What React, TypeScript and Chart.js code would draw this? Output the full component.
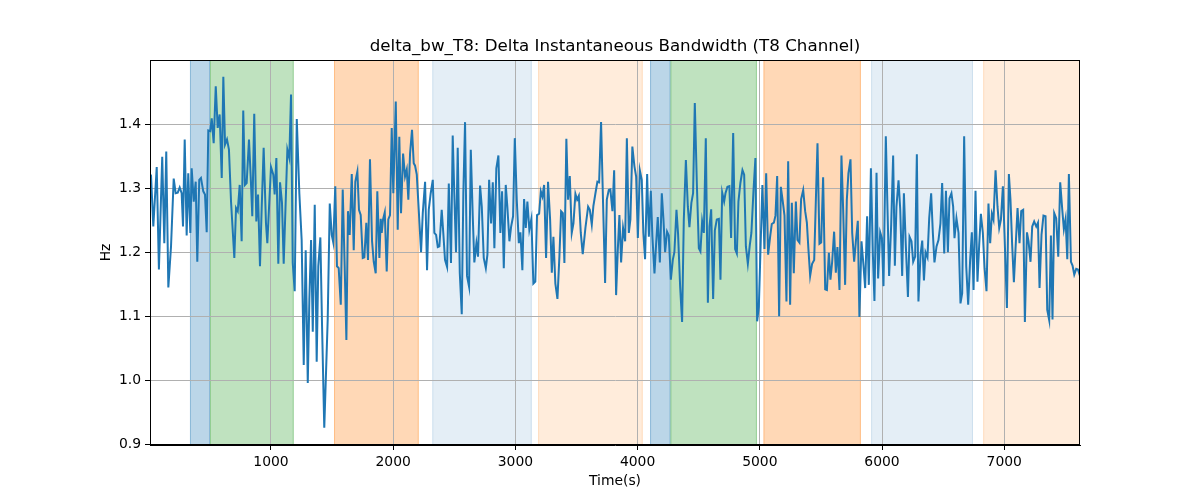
import React, { useEffect, useRef } from 'react';
import { Chart, registerables } from 'chart.js';

Chart.register(...registerables);

const TITLE = 'delta_bw_T8: Delta Instantaneous Bandwidth (T8 Channel)';
const X_LABEL = 'Time(s)';
const Y_LABEL = 'Hz';

const times = [
  10, 18, 37, 65, 83, 110, 127, 143, 160, 182, 204, 220, 237, 253, 269, 280, 294, 310, 323, 340,
  351, 368, 384, 397, 413, 427, 446, 460, 474, 487, 503, 515, 531, 548, 564, 580, 597, 610, 624, 640,
  656, 673, 700, 714, 728, 744, 760, 773, 787, 801, 820, 834, 847, 863, 880, 894, 910, 924, 940,
  959, 970, 1000, 1019, 1030, 1044, 1060, 1074, 1090, 1104, 1134, 1150, 1164, 1178, 1194, 1211, 1232, 1251, 1268, 1284,
  1301, 1314, 1328, 1342, 1358, 1374, 1387, 1404, 1418, 1436, 1464, 1481, 1497, 1510, 1526, 1540, 1554, 1571, 1587, 1603,
  1617, 1630, 1644, 1661, 1677, 1690, 1707, 1720, 1734, 1751, 1764, 1780, 1794, 1810, 1827, 1841, 1857, 1870, 1887,
  1898, 1906, 1917, 1931, 1947, 1960, 1974, 1988, 2001, 2021, 2037, 2050, 2064, 2081, 2097, 2111, 2124, 2138, 2154, 2168,
  2179, 2193, 2209, 2228, 2242, 2261, 2277, 2291, 2307, 2324, 2337, 2351, 2365, 2378, 2397, 2410, 2424, 2441, 2455, 2473,
  2487, 2500, 2514, 2528, 2545, 2561, 2574, 2588, 2604, 2621, 2635, 2651, 2664, 2681, 2694, 2711, 2725, 2741, 2758, 2771,
  2785, 2801, 2815, 2828,
  2844, 2861, 2877, 2891, 2905, 2921, 2934, 2951, 2965, 2981, 2995, 3011, 3028, 3041, 3057, 3071, 3085, 3098, 3114, 3131,
  3147, 3163, 3177, 3194, 3208, 3221, 3235, 3251, 3267, 3284, 3298, 3311, 3327, 3344, 3360, 3374, 3388, 3401, 3417, 3431,
  3445, 3461, 3475, 3491, 3505, 3519, 3535, 3551, 3573, 3595, 3609, 3625, 3638, 3655, 3671, 3685, 3701, 3718, 3734, 3748,
  3764,
  3777, 3794, 3808, 3824, 3838, 3851, 3865, 3881, 3898, 3912, 3928, 3941, 3957, 3974, 3988, 4002, 4018, 4034, 4047, 4061,
  4078, 4092, 4108, 4121, 4138, 4151, 4165, 4182, 4198, 4211, 4225, 4241, 4255, 4272, 4288, 4301, 4318, 4331, 4348, 4364,
  4378, 4395, 4411, 4424, 4440, 4454, 4468, 4485, 4501, 4514, 4528, 4542, 4558, 4575, 4588, 4602, 4618, 4632, 4648, 4665,
  4678, 4692, 4708,
  4719, 4735, 4751, 4765, 4782, 4798, 4812, 4825, 4841, 4858, 4872, 4886, 4902, 4918, 4931, 4948, 4964, 4978, 4992, 5021,
  5038, 5052, 5068, 5085, 5098, 5115, 5128, 5142, 5158, 5172, 5188, 5202, 5218, 5232, 5248, 5262, 5278, 5295, 5308, 5324,
  5338, 5355, 5371, 5385, 5398, 5412, 5428, 5445, 5459, 5472, 5488, 5502, 5518, 5535, 5549, 5565, 5578, 5592, 5608, 5622,
  5635, 5652,
  5668, 5682, 5698, 5712, 5725, 5742, 5756, 5772, 5786, 5802, 5815, 5832, 5848, 5862, 5878, 5892, 5909, 5925, 5938, 5955,
  5968, 5985, 5999, 6012, 6031, 6045, 6058, 6075, 6091, 6105, 6118, 6135, 6149, 6165, 6179, 6195, 6212, 6225, 6241, 6255,
  6271, 6285, 6298, 6315, 6329, 6343, 6356, 6372, 6386, 6402, 6416, 6429, 6446, 6462, 6478, 6492, 6509, 6523, 6539, 6552,
  6568, 6582, 6593,
  6609, 6626, 6642, 6656, 6672, 6689, 6705, 6721, 6735, 6749, 6765, 6781, 6795, 6809, 6825, 6839, 6855, 6871, 6885, 6899,
  6912, 6929, 6945, 6959, 6973, 6989, 7002, 7022, 7038, 7051, 7065, 7079, 7092, 7109, 7125, 7139, 7155, 7169, 7186, 7199,
  7215, 7229, 7245, 7262, 7276, 7289, 7305, 7321, 7338, 7352, 7368, 7382, 7395, 7409, 7425, 7442, 7458, 7475, 7488, 7502,
  7516, 7529, 7546, 7559, 7573, 7589, 7603, 7620,
];

const values = [
  1.29, 1.321, 1.24, 1.333, 1.173, 1.349, 1.214, 1.357, 1.145, 1.209, 1.315, 1.292, 1.293, 1.301, 1.292, 1.24, 1.376, 1.226, 1.323, 1.23,
  1.331, 1.279, 1.31, 1.185, 1.313, 1.316, 1.295, 1.29, 1.231, 1.39, 1.389, 1.409, 1.37, 1.459, 1.394, 1.415, 1.316, 1.474, 1.368, 1.376,
  1.36, 1.279, 1.191, 1.269, 1.264, 1.305, 1.217, 1.421, 1.305, 1.308, 1.376, 1.318, 1.256, 1.416, 1.248, 1.29, 1.178, 1.269, 1.363,
  1.245, 1.214, 1.333, 1.321, 1.29, 1.347, 1.182, 1.309, 1.277, 1.182, 1.36, 1.347, 1.446, 1.183, 1.139, 1.408, 1.292, 1.219, 1.024, 1.203,
  0.996, 1.126, 1.219, 1.076, 1.274, 1.029, 1.178, 1.223, 1.084, 0.926, 1.094, 1.276, 1.227, 1.215, 1.303, 1.178, 1.175, 1.118, 1.298, 1.178,
  1.063, 1.264, 1.227, 1.322, 1.203, 1.31, 1.326, 1.266, 1.258, 1.191, 1.192, 1.246, 1.188, 1.345, 1.217, 1.185, 1.167, 1.295, 1.191,
  1.252, 1.23, 1.251, 1.262, 1.17, 1.251, 1.258, 1.394, 1.292, 1.435, 1.235, 1.38, 1.261, 1.354, 1.318, 1.329, 1.282, 1.354, 1.391, 1.339,
  1.335, 1.321, 1.266, 1.2, 1.261, 1.31, 1.172, 1.266, 1.292, 1.313, 1.23, 1.227, 1.208, 1.209, 1.266, 1.23, 1.188, 1.177, 1.307, 1.183,
  1.382, 1.292, 1.2, 1.363, 1.167, 1.103, 1.292, 1.403, 1.163, 1.146, 1.36, 1.256, 1.184, 1.214, 1.193, 1.304, 1.271, 1.191, 1.175, 1.196,
  1.313, 1.245, 1.309, 1.206,
  1.331, 1.351, 1.23, 1.295, 1.175, 1.305, 1.271, 1.217, 1.24, 1.256, 1.378, 1.282, 1.214, 1.231, 1.172, 1.283, 1.238, 1.279, 1.235, 1.252,
  1.151, 1.154, 1.258, 1.26, 1.295, 1.287, 1.305, 1.191, 1.31, 1.251, 1.168, 1.224, 1.151, 1.127, 1.193, 1.264, 1.261, 1.183, 1.377, 1.282,
  1.319, 1.23, 1.245, 1.291, 1.282, 1.288, 1.23, 1.197, 1.238, 1.271, 1.266, 1.243, 1.272, 1.292, 1.31, 1.309, 1.403, 1.271, 1.152, 1.282,
  1.297,
  1.298, 1.264, 1.328, 1.133, 1.204, 1.258, 1.184, 1.238, 1.217, 1.378, 1.23, 1.251, 1.365, 1.334, 1.318, 1.222, 1.328, 1.313, 1.23, 1.189,
  1.322, 1.224, 1.296, 1.224, 1.167, 1.211, 1.255, 1.184, 1.292, 1.253, 1.2, 1.232, 1.226, 1.157, 1.188, 1.2, 1.266, 1.229, 1.146, 1.091,
  1.251, 1.344, 1.271, 1.239, 1.277, 1.292, 1.433, 1.305, 1.206, 1.201, 1.248, 1.23, 1.378, 1.121, 1.24, 1.267, 1.127, 1.234, 1.251, 1.252,
  1.157, 1.293, 1.279,
  1.292, 1.302, 1.303, 1.222, 1.386, 1.205, 1.198, 1.279, 1.308, 1.328, 1.321, 1.209, 1.182, 1.211, 1.23, 1.295, 1.347, 1.092, 1.115, 1.305,
  1.205, 1.323, 1.196, 1.225, 1.244, 1.246, 1.257, 1.319, 1.1, 1.302, 1.279, 1.257, 1.123, 1.342, 1.118, 1.277, 1.167, 1.279, 1.219, 1.215,
  1.283, 1.297, 1.264, 1.246, 1.204, 1.163, 1.182, 1.188, 1.284, 1.37, 1.213, 1.215, 1.317, 1.142, 1.141, 1.199, 1.157, 1.185, 1.232, 1.168,
  1.208, 1.141,
  1.351, 1.266, 1.149, 1.282, 1.323, 1.345, 1.23, 1.185, 1.217, 1.249, 1.099, 1.217, 1.18, 1.144, 1.256, 1.149, 1.331, 1.197, 1.124, 1.324,
  1.159, 1.231, 1.222, 1.147, 1.381, 1.266, 1.163, 1.243, 1.351, 1.179, 1.271, 1.312, 1.267, 1.163, 1.292, 1.209, 1.13, 1.224, 1.217, 1.185,
  1.193, 1.353, 1.123, 1.196, 1.218, 1.156, 1.2, 1.192, 1.253, 1.292, 1.23, 1.184, 1.209, 1.219, 1.245, 1.308, 1.198, 1.296, 1.2, 1.284,
  1.292, 1.271, 1.222,
  1.253, 1.23, 1.12, 1.136, 1.381, 1.178, 1.118, 1.188, 1.231, 1.141, 1.296, 1.154, 1.211, 1.26, 1.23, 1.175, 1.139, 1.276, 1.214, 1.26,
  1.251, 1.328, 1.271, 1.238, 1.251, 1.303, 1.23, 1.113, 1.322, 1.282, 1.211, 1.153, 1.204, 1.269, 1.214, 1.264, 1.266, 1.091, 1.231, 1.217,
  1.185, 1.24, 1.248, 1.24, 1.246, 1.144, 1.227, 1.257, 1.256, 1.11, 1.094, 1.226, 1.095, 1.261, 1.253, 1.193, 1.309, 1.266, 1.236, 1.252,
  1.189, 1.322, 1.185, 1.179, 1.165, 1.174, 1.173, 1.163,
];

const xTicks = [1000, 2000, 3000, 4000, 5000, 6000, 7000];
const yTicks = [0.9, 1.0, 1.1, 1.2, 1.3, 1.4];

const spanStarts = [337, 501, 1516, 2320, 3186, 4102, 4269, 5030, 5911, 6828];
const spanEnds = [501, 1186, 2209, 3134, 4042, 4269, 4976, 5827, 6744, 7620];
const spanColors = [
  'rgba(31,119,180,0.3)',
  'rgba(44,160,44,0.3)',
  'rgba(255,127,14,0.3)',
  'rgba(31,119,180,0.12)',
  'rgba(255,127,14,0.15)',
  'rgba(31,119,180,0.3)',
  'rgba(44,160,44,0.3)',
  'rgba(255,127,14,0.3)',
  'rgba(31,119,180,0.12)',
  'rgba(255,127,14,0.15)',
];

const X_MIN = 10;
const X_MAX = 7620;
const Y_MIN = 0.899;
const Y_MAX = 1.5;

const FONT = 'DejaVu Sans';

export default function App() {
  const ref = useRef<HTMLCanvasElement | null>(null);

  useEffect(() => {
    if (!ref.current) return;
    const decor = {
      id: 'decor',
      beforeDraw(chart: any) {
        const { ctx, chartArea: a, scales } = chart;
        const x = scales.x;
        ctx.save();
        ctx.fillStyle = '#ffffff';
        ctx.fillRect(0, 0, chart.width, chart.height);
        for (let i = 0; i < spanStarts.length; i++) {
          const x0 = Math.max(a.left, x.getPixelForValue(spanStarts[i]));
          const x1 = Math.min(a.right, x.getPixelForValue(spanEnds[i]));
          ctx.fillStyle = spanColors[i];
          ctx.fillRect(x0, a.top, x1 - x0, a.bottom - a.top);
          ctx.strokeStyle = spanColors[i];
          ctx.lineWidth = 1;
          ctx.beginPath();
          ctx.moveTo(x0 + 0.5, a.top);
          ctx.lineTo(x0 + 0.5, a.bottom);
          ctx.moveTo(x1 - 0.5, a.top);
          ctx.lineTo(x1 - 0.5, a.bottom);
          ctx.stroke();
        }
        ctx.restore();
      },
      afterDraw(chart: any) {
        const { ctx, chartArea: a } = chart;
        ctx.save();
        ctx.strokeStyle = '#000000';
        ctx.lineWidth = 1;
        ctx.strokeRect(a.left + 0.5, a.top + 0.5, a.right - a.left - 1, a.bottom - a.top - 1);
        ctx.fillStyle = '#000000';
        const cx = (a.left + a.right) / 2;
        ctx.font = `16.7px "${FONT}"`;
        ctx.textAlign = 'center';
        ctx.textBaseline = 'alphabetic';
        ctx.fillText(TITLE, cx, a.top - 9);
        ctx.font = `13.9px "${FONT}"`;
        ctx.textBaseline = 'middle';
        ctx.fillText(X_LABEL, cx, 481);
        ctx.translate(106, (a.top + a.bottom) / 2);
        ctx.rotate(-Math.PI / 2);
        ctx.fillText(Y_LABEL, 0, 0);
        ctx.restore();
      },
    };

    const chart = new Chart(ref.current, {
      type: 'line',
      data: {
        datasets: [
          {
            data: times.map((t, i) => ({ x: t, y: values[i] })),
            borderColor: '#1f77b4',
            borderWidth: 2,
            pointRadius: 0,
            tension: 0,
            fill: false,
          },
        ],
      },
      options: {
        responsive: false,
        animation: false,
        devicePixelRatio: 1,
        layout: { padding: { left: 0, right: 120, top: 60, bottom: 0 } },
        plugins: { legend: { display: false }, tooltip: { enabled: false }, title: { display: false } },
        scales: {
          x: {
            type: 'linear',
            min: X_MIN,
            max: X_MAX,
            afterBuildTicks: (s: any) => {
              s.ticks = xTicks.map((v) => ({ value: v }));
            },
            afterFit: (s: any) => {
              s.height = 55;
            },
            grid: { color: '#b0b0b0', lineWidth: 1, tickColor: '#000000', tickLength: 5, drawTicks: true },
            border: { display: true, color: '#000000', width: 1 },
            ticks: {
              color: '#000000',
              font: { family: FONT, size: 13.9 },
              padding: 4,
              maxRotation: 0,
              autoSkip: false,
              callback: (v: any) => String(v),
            },
          },
          y: {
            type: 'linear',
            min: Y_MIN,
            max: Y_MAX,
            afterBuildTicks: (s: any) => {
              s.ticks = yTicks.map((v) => ({ value: v }));
            },
            afterFit: (s: any) => {
              s.width = 150;
            },
            grid: { color: '#b0b0b0', lineWidth: 1, tickColor: '#000000', tickLength: 5, drawTicks: true },
            border: { display: true, color: '#000000', width: 1 },
            ticks: {
              color: '#000000',
              font: { family: FONT, size: 13.9 },
              padding: 4,
              autoSkip: false,
              callback: (v: any) => Number(v).toFixed(1),
            },
          },
        },
      },
      plugins: [decor],
    } as any);

    return () => chart.destroy();
  }, []);

  return (
    <div style={{ position: 'fixed', left: 0, top: 0, width: 1200, height: 500, background: '#fff' }}>
      <canvas ref={ref} width={1200} height={500} style={{ width: 1200, height: 500, display: 'block' }} />
    </div>
  );
}
